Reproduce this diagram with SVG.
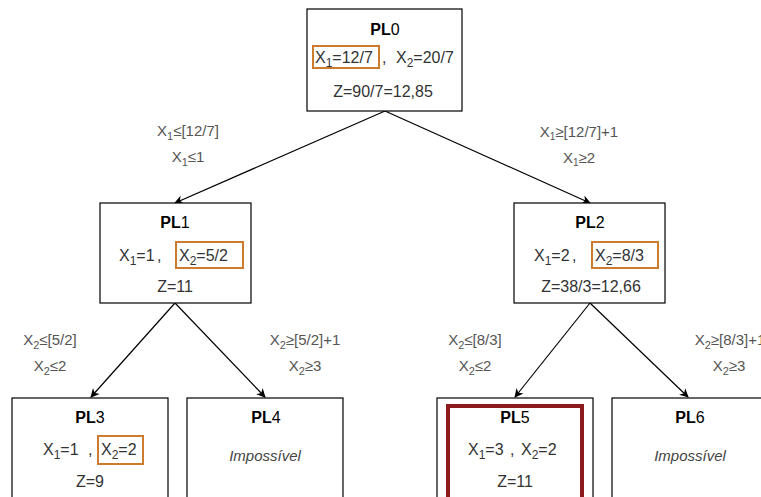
<svg xmlns="http://www.w3.org/2000/svg" width="761" height="497" viewBox="0 0 761 497">
<defs>
<marker id="arr" viewBox="0 0 10 10" refX="9" refY="5" markerWidth="9" markerHeight="9" markerUnits="userSpaceOnUse" orient="auto">
<path d="M0,0 L10,5 L0,10 L3,5 Z" fill="#000"/>
</marker>
<style>
.box{fill:#fff;stroke:#000;stroke-width:1.2}
.t{font-family:"Liberation Sans",Arial,sans-serif;font-size:16px;fill:#000;text-anchor:middle}
.z{font-family:"Liberation Sans",Arial,sans-serif;font-size:16px;fill:#333;text-anchor:middle}
.v{font-family:"Liberation Sans",Arial,sans-serif;font-size:16px;fill:#333}
.lbl{font-family:"Liberation Sans",Arial,sans-serif;font-size:15px;fill:#555;text-anchor:middle}
.it{font-family:"Liberation Sans",Arial,sans-serif;font-size:15px;fill:#444;font-style:italic;text-anchor:middle}
.hl{fill:none;stroke:#CD7B2E;stroke-width:2}
.edge{stroke:#000;stroke-width:1.2;fill:none;marker-end:url(#arr)}
.b{font-weight:bold}
</style>
</defs>
<rect width="761" height="497" fill="#fff"/>
<g id="connectors">
<line class="edge" x1="385" y1="111" x2="175" y2="203"/>
<line class="edge" x1="385" y1="111" x2="590" y2="203"/>
<line class="edge" x1="175" y1="303" x2="91" y2="397"/>
<line class="edge" x1="175" y1="303" x2="265" y2="397"/>
<line class="edge" x1="590" y1="303" x2="515" y2="397"/>
<line class="edge" x1="590" y1="303" x2="688" y2="397"/>
<text class="lbl" x="188" y="136">X<tspan font-size="11" dy="4">1</tspan><tspan dy="-4">≤[12/7]</tspan></text>
<text class="lbl" x="188" y="162">X<tspan font-size="11" dy="4">1</tspan><tspan dy="-4">≤1</tspan></text>
<text class="lbl" x="579" y="137">X<tspan font-size="10" dy="3">1</tspan><tspan dy="-3">≥[12/7]+1</tspan></text>
<text class="lbl" x="579" y="163">X<tspan font-size="10" dy="3">1</tspan><tspan dy="-3">≥2</tspan></text>
<text class="lbl" x="50" y="345">X<tspan font-size="11" dy="4">2</tspan><tspan dy="-4">≤[5/2]</tspan></text>
<text class="lbl" x="50" y="371">X<tspan font-size="11" dy="4">2</tspan><tspan dy="-4">≤2</tspan></text>
<text class="lbl" x="305" y="345">X<tspan font-size="11" dy="4">2</tspan><tspan dy="-4">≥[5/2]+1</tspan></text>
<text class="lbl" x="305" y="371">X<tspan font-size="11" dy="4">2</tspan><tspan dy="-4">≥3</tspan></text>
<text class="lbl" x="475" y="345">X<tspan font-size="11" dy="4">2</tspan><tspan dy="-4">≤[8/3]</tspan></text>
<text class="lbl" x="475" y="371">X<tspan font-size="11" dy="4">2</tspan><tspan dy="-4">≤2</tspan></text>
<text class="lbl" x="730" y="345">X<tspan font-size="11" dy="4">2</tspan><tspan dy="-4">≥[8/3]+1</tspan></text>
<text class="lbl" x="729" y="371">X<tspan font-size="11" dy="4">2</tspan><tspan dy="-4">≥3</tspan></text>
</g>
<g id="PL0">
<rect class="box" x="307" y="9" width="155" height="102"/>
<text class="t" x="385" y="35"><tspan class="b">PL</tspan>0</text>
<rect class="hl" x="313" y="46" width="66" height="22"/>
<text class="v" x="315" y="63">X<tspan font-size="12" dy="4">1</tspan><tspan dy="-4">=12/7</tspan></text>
<text class="v" x="382" y="63">,</text>
<text class="v" x="396" y="63">X<tspan font-size="12" dy="4">2</tspan><tspan dy="-4">=20/7</tspan></text>
<text class="z" x="383" y="97">Z=90/7=12,85</text>
</g>
<g id="PL1">
<rect class="box" x="100" y="203" width="151" height="100"/>
<text class="t" x="175" y="228"><tspan class="b">PL</tspan>1</text>
<text class="v" x="119" y="261">X<tspan font-size="12" dy="4">1</tspan><tspan dy="-4">=1</tspan></text>
<text class="v" x="157" y="261">,</text>
<rect class="hl" x="176" y="242" width="67" height="26"/>
<text class="v" x="179" y="261">X<tspan font-size="12" dy="4">2</tspan><tspan dy="-4">=5/2</tspan></text>
<text class="z" x="175" y="292">Z=11</text>
</g>
<g id="PL2">
<rect class="box" x="514" y="203" width="151" height="100"/>
<text class="t" x="590" y="228"><tspan class="b">PL</tspan>2</text>
<text class="v" x="534" y="261">X<tspan font-size="12" dy="4">1</tspan><tspan dy="-4">=2</tspan></text>
<text class="v" x="572" y="261">,</text>
<rect class="hl" x="592" y="242" width="66" height="26"/>
<text class="v" x="595" y="261">X<tspan font-size="12" dy="4">2</tspan><tspan dy="-4">=8/3</tspan></text>
<text class="z" x="591" y="292">Z=38/3=12,66</text>
</g>
<g id="PL3">
<rect class="box" x="12" y="398" width="156" height="120"/>
<text class="t" x="90" y="423"><tspan class="b">PL</tspan>3</text>
<text class="v" x="43" y="455">X<tspan font-size="12" dy="4">1</tspan><tspan dy="-4">=1</tspan></text>
<text class="v" x="88" y="455">,</text>
<rect class="hl" x="98" y="436" width="45" height="28"/>
<text class="v" x="101" y="455">X<tspan font-size="12" dy="4">2</tspan><tspan dy="-4">=2</tspan></text>
<text class="z" x="90" y="487">Z=9</text>
</g>
<g id="PL4">
<rect class="box" x="187" y="398" width="156" height="120"/>
<text class="t" x="266" y="423"><tspan class="b">PL</tspan>4</text>
<text class="it" x="265" y="461">Impossível</text>
</g>
<g id="PL5">
<rect class="box" x="437" y="398" width="156" height="120"/>
<rect x="448" y="406" width="134" height="120" fill="none" stroke="#8E1B1B" stroke-width="4"/>
<text class="t" x="515" y="423"><tspan class="b">PL</tspan>5</text>
<text class="v" x="468" y="455">X<tspan font-size="12" dy="4">1</tspan><tspan dy="-4">=3</tspan></text>
<text class="v" x="510" y="455">,</text>
<text class="v" x="521" y="455">X<tspan font-size="12" dy="4">2</tspan><tspan dy="-4">=2</tspan></text>
<text class="z" x="515" y="487">Z=11</text>
</g>
<g id="PL6">
<rect class="box" x="612" y="398" width="160" height="120"/>
<text class="t" x="690" y="423"><tspan class="b">PL</tspan>6</text>
<text class="it" x="690" y="461">Impossível</text>
</g>
</svg>
